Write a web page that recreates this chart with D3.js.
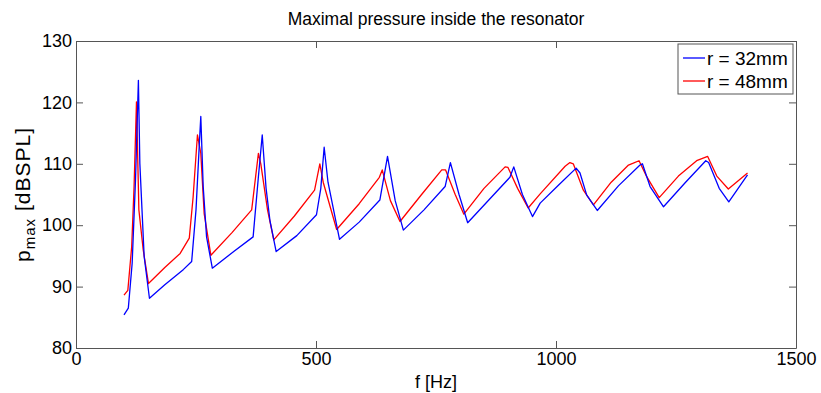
<!DOCTYPE html>
<html>
<head>
<meta charset="utf-8">
<script src="https://cdn.jsdelivr.net/npm/d3@7"></script>
<style>
  html, body { margin: 0; padding: 0; background: #fff; }
  svg { display: block; font-family: "Liberation Sans", Arial, sans-serif; }
</style>
</head>
<body>
<svg id="chart" width="821" height="393"></svg>
<script>
// ---------- data ----------
const title = "Maximal pressure inside the resonator";
const seriesNames = ["r = 32mm", "r = 48mm"];
const seriesColors = ["#0000ff", "#ff0000"];
const xTicks = [0, 500, 1000, 1500];
const yTicks = [80, 90, 100, 110, 120, 130];

const freq32 = [100,109,117,124,130,133,142,153,185,224,241,250,257,260,265,272,284,330,369,380,388,396,404,417,460,501,510,517,525,549,590,633,649,665,682,725,769,780,798,816,860,904,912,930,951,967,1005,1042,1050,1064,1086,1130,1175,1180,1196,1224,1270,1312,1318,1340,1360,1399];
const p32    = [85.4,86.5,93.8,107.4,123.6,110.1,94.9,88.1,90.3,92.8,94.1,102.5,113.3,117.7,106.3,98.1,93.0,95.8,98.1,107.9,114.7,106.0,100.8,95.7,98.3,101.7,106.0,112.7,107.0,97.7,100.5,104.1,111.2,104.0,99.2,102.5,106.3,110.2,105.0,100.4,104.1,107.8,109.5,105.0,101.4,103.6,106.5,109.3,108.5,104.9,102.4,106.4,109.8,110.0,106.3,103.0,107.0,110.5,110.2,106.0,103.8,108.2];

const freq48 = [100,108,116,121,126,131,140,151,185,217,236,244,253,260,267,281,325,366,380,385,399,412,455,497,508,515,543,590,632,638,655,675,720,762,770,790,808,850,894,900,920,942,967,1019,1029,1036,1057,1078,1115,1151,1161,1173,1189,1215,1255,1293,1316,1335,1359,1399];
const p48    = [88.6,89.4,96.5,106.3,120.1,102.5,96.0,90.5,93.1,95.4,97.9,104.6,114.7,111.7,101.9,95.1,98.8,102.5,111.7,110.0,102.5,97.6,101.5,105.7,110.0,107.0,99.3,103.5,107.8,109.0,104.0,100.6,105.0,109.0,109.0,105.0,101.8,106.0,109.5,109.4,106.0,102.8,105.1,109.6,110.2,110.0,105.7,103.3,107.0,109.8,110.1,110.5,107.9,104.5,108.0,110.5,111.2,108.0,105.9,108.5];

// ---------- layout ----------
const svg = d3.select("#chart");
const L = 76, R = 796, T = 41, B = 348;
const axisColor = "#555";
const fs = 18;

const x = d3.scaleLinear().domain([0, 1500]).range([L, R]);
const y = d3.scaleLinear().domain([80, 130]).range([B, T]);

svg.append("rect").attr("x", L).attr("y", T).attr("width", R - L).attr("height", B - T)
  .attr("fill", "#fff");

const series = [
  { f: freq32, p: p32 },
  { f: freq48, p: p48 }
];
const line = d3.line().x(d => x(d[0])).y(d => y(d[1]));
[1, 0].forEach(i => {
  const pts = series[i].f.map((f, k) => [f, series[i].p[k]]);
  svg.append("path").datum(pts)
    .attr("d", line)
    .attr("fill", "none")
    .attr("stroke", seriesColors[i])
    .attr("stroke-width", 1.3)
    .attr("stroke-linejoin", "round");
});

// axes (box with inward ticks)
const tickLen = 7;
const fmt = d3.format("d");
const axB = svg.append("g").attr("transform", `translate(0,${B})`)
  .call(d3.axisBottom(x).tickValues(xTicks).tickFormat(fmt).tickSizeInner(-tickLen).tickSizeOuter(0).tickPadding(4));
const axT = svg.append("g").attr("transform", `translate(0,${T})`)
  .call(d3.axisTop(x).tickValues(xTicks).tickSizeInner(-tickLen).tickSizeOuter(0).tickFormat(""));
const axL = svg.append("g").attr("transform", `translate(${L},0)`)
  .call(d3.axisLeft(y).tickValues(yTicks).tickFormat(fmt).tickSizeInner(-tickLen).tickSizeOuter(0).tickPadding(4));
const axR = svg.append("g").attr("transform", `translate(${R},0)`)
  .call(d3.axisRight(y).tickValues(yTicks).tickSizeInner(-tickLen).tickSizeOuter(0).tickFormat(""));

[axB, axT, axL, axR].forEach(g => {
  g.select(".domain").attr("stroke", axisColor);
  g.selectAll(".tick line").attr("stroke", axisColor);
  g.selectAll(".tick text").attr("fill", "#000").attr("font-size", fs)
    .attr("font-family", "Liberation Sans, Arial, sans-serif");
});
axB.selectAll(".tick text").attr("y", 4).attr("dy", "0.72em");

// title
svg.append("text").attr("x", (L + R) / 2).attr("y", 25)
  .attr("text-anchor", "middle").attr("font-size", 17.5).text(title);

// x label
svg.append("text").attr("x", (L + R) / 2).attr("y", 388)
  .attr("text-anchor", "middle").attr("font-size", fs).text("f [Hz]");

// y label
const yl = svg.append("text")
  .attr("transform", `translate(30,${(T + B) / 2}) rotate(-90)`)
  .attr("text-anchor", "middle").attr("font-size", 21).attr("letter-spacing", 1);
yl.append("tspan").text("p");
yl.append("tspan").attr("font-size", 15).attr("dy", 5).text("max");
yl.append("tspan").attr("dy", -5).text(" [dBSPL]");

// legend
const lg = svg.append("g");
lg.append("rect").attr("x", 678).attr("y", 44).attr("width", 115).attr("height", 50)
  .attr("fill", "#fff").attr("stroke", axisColor).attr("stroke-width", 1);
seriesNames.forEach((n, i) => {
  const yy = 58 + i * 23;
  lg.append("line").attr("x1", 683).attr("x2", 705).attr("y1", yy).attr("y2", yy)
    .attr("stroke", seriesColors[i]).attr("stroke-width", 1.3);
  lg.append("text").attr("x", 707).attr("y", yy).attr("dy", "0.35em")
    .attr("font-size", 19).text(n);
});
</script>
</body>
</html>
